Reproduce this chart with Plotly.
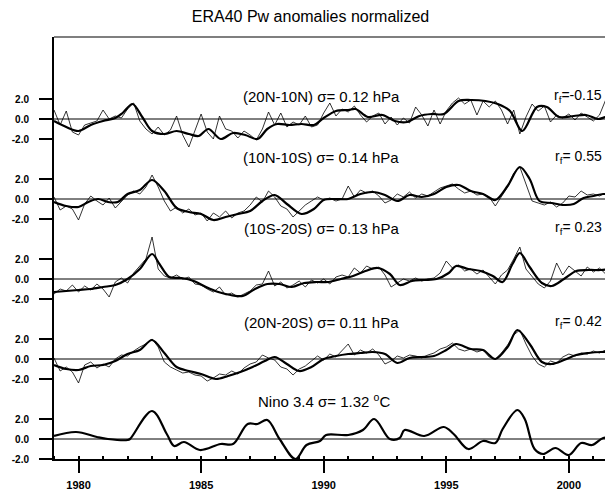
import plotly.graph_objects as go

# ---------------- data ----------------
OFFSETS = [32, 24, 16, 8, 0]   # vertical stacking of the five panels
PANEL_LABELS = ["(20N-10N) σ= 0.12 hPa", "(10N-10S) σ= 0.14 hPa",
                "(10S-20S) σ= 0.13 hPa", "(20N-20S) σ= 0.11 hPa",
                "Nino 3.4 σ= 1.32 <sup>o</sup>C"]
RF_LABELS = ["r<sub>f</sub>=-0.15", "r<sub>f</sub>= 0.55", "r<sub>f</sub>= 0.23",
             "r<sub>f</sub>= 0.42", ""]

YEARS = list(range(1979, 2002))
QUARTERS = [0.0, 0.25, 0.5, 0.75]
thin_t = [y + q for y in YEARS for q in QUARTERS]

# ---- Panel 1 (20N-10N) ----
p1_thin = [0.9, -0.6, 0.8, -1.3,   -1.6, -0.6, -0.4, -0.2,   0.9, 0.0, 0.3, 0.1,
           1.0, 1.6, -0.2, -1.0,   -1.5, -0.8, -1.6, -1.1,   0.3, -1.6, -2.8, -1.2,
           0.5, -1.3, -2.0, 0.3,   -1.0, -1.2, -1.9, -1.2,   -1.6, -2.1, -1.0, 0.7,
           -0.6, 0.6, -0.8, -0.3,  -0.6, 0.3, -0.8, -0.6,    0.6, 1.6, 0.3, 1.0,
           0.7, 1.3, 0.4, -0.3,    0.3, 0.6, -0.5, 0.2,      -0.6, 0.1, -0.4, 1.2,
           0.4, -0.7, 0.9, -0.5,   0.8, 1.6, 2.1, 1.5,       1.9, 0.4, 1.8, 1.2,
           1.8, 0.9, -0.5, 0.9,    -1.5, 0.2, 1.5, 0.8,      1.3, -0.3, 0.4, 0.1,
           0.5, -0.1, 0.6, 0.2,    -0.2, 0.4, 1.9, 0.2]
p1_st = [1979.0, 1979.5, 1980.0, 1980.5, 1981.0, 1981.5, 1981.8, 1982.2, 1982.6, 1983.0,
         1983.5, 1984.0, 1984.5, 1984.9, 1985.3, 1985.8, 1986.3, 1986.8, 1987.3, 1987.7,
         1988.1, 1988.6, 1989.1, 1989.6, 1990.0, 1990.5, 1991.0, 1991.3, 1991.8, 1992.4,
         1992.9, 1993.4, 1993.9, 1994.4, 1994.9, 1995.5, 1996.0, 1996.6, 1997.1, 1997.6,
         1998.1, 1998.7, 1999.1, 1999.6, 2000.2, 2000.7, 2001.2, 2001.5, 2001.8]
p1_s = [-0.2, -0.8, -1.2, -0.6, -0.2, 0.1, 0.6, 1.5, 0.2, -1.2,
        -1.5, -1.2, -1.5, -1.7, -1.0, -2.0, -1.4, -1.6, -2.0, -1.0,
        -0.5, -0.6, -0.5, -0.6, 0.1, 0.8, 0.9, 1.0, 0.2, 0.4,
        -0.2, -0.3, 0.3, 0.5, 0.5, 1.8, 1.9, 1.8, 1.5, 0.8,
        -1.2, 1.2, 1.2, 0.2, 0.3, 0.4, 0.0, 0.2, 0.3]

# ---- Panel 2 (10N-10S) ----
p2_thin = [0.2, -1.1, -0.7, -1.0,  -2.1, -0.5, 0.3, -0.2,   -0.6, 0.1, -0.9, -0.3,
           0.4, 0.8, 0.5, 1.2,     2.4, 1.2, -0.2, -1.2,    -0.8, -1.4, -1.0, -1.6,
           -1.4, -2.2, -1.4, -1.8, -1.2, -1.9, -1.4, -1.2,  -0.6, 0.2, -0.3, 0.8,
           0.2, -0.7, -1.0, -1.8,  -1.2, -0.6, -0.2, 0.2,   -0.1, 0.1, -0.2, 0.0,
           1.3, 0.2, 0.9, 0.6,     0.8, 0.3, -0.4, -0.1,    0.5, 0.2, 0.7, 0.1,
           0.5, 0.3, 0.7, 1.1,     1.3, 1.5, 1.0, 0.6,      0.8, 0.4, 0.5, 0.2,
           -0.7, 0.3, 1.2, 2.6,    3.2, 1.5, -0.2, -0.4,    -0.6, -0.3, -0.8, -0.4,
           0.3, 0.2, 0.8, 0.4,     0.5, 0.3, 0.6, 0.4]
p2_st = [1979.0, 1979.5, 1980.0, 1980.4, 1980.8, 1981.2, 1981.6, 1982.0, 1982.5, 1983.0,
         1983.5, 1984.0, 1984.5, 1985.0, 1985.5, 1986.0, 1986.5, 1987.0, 1987.5, 1988.0,
         1988.5, 1989.1, 1989.6, 1990.0, 1990.5, 1991.0, 1991.5, 1992.0, 1992.5, 1993.0,
         1993.5, 1994.0, 1994.5, 1995.0, 1995.5, 1996.0, 1996.5, 1997.0, 1997.5, 1998.0,
         1998.4, 1998.8, 1999.3, 1999.8, 2000.2, 2000.6, 2001.0, 2001.4, 2001.8]
p2_s = [-0.3, -0.7, -0.8, -0.3, 0.0, -0.3, -0.3, 0.5, 0.9, 1.9,
        0.8, -0.9, -1.3, -1.5, -2.1, -1.8, -1.5, -1.2, -0.2, 0.4,
        -0.5, -1.5, -1.0, -0.1, 0.0, 0.0, 0.5, 0.7, 0.4, -0.2,
        0.4, 0.2, 0.5, 1.2, 1.4, 0.8, 0.5, -0.1, 1.3, 3.2,
        2.0, -0.2, -0.4, -0.6, -0.5, 0.1, 0.3, 0.5, 0.4]

# ---- Panel 3 (10S-20S) ----
p3_thin = [-1.5, -1.0, -1.2, -0.6, -1.3, -0.7, -1.1, -0.5,  -1.0, -1.8, -0.3, 0.1,
           -0.4, 0.6, 1.3, 2.0,    4.2, 1.0, 0.3, 0.1,      0.4, 0.0, 0.2, -0.5,
           -0.6, -1.0, -1.3, -0.8, -1.6, -1.4, -1.8, -1.5,  -1.2, -0.6, -0.5, 0.8,
           -0.7, -0.3, -0.9, -0.6, -0.2, -0.8, -0.1, -0.4,  0.0, -0.5, 0.2, 0.4,
           0.2, 1.1, 0.6, 1.3,     1.0, 1.2, 0.4, -0.8,     -0.4, 0.0, -0.2, 0.1,
           -0.2, 0.0, 0.1, 0.6,    1.8, 1.1, 1.4, 0.8,      1.0, 0.5, 0.9, 0.2,
           -0.5, 0.4, 0.9, 2.0,    3.2, 1.0, 0.3, -0.5,     -0.9, -0.2, 1.6, 0.4,
           1.3, 0.8, 0.3, 1.2,     0.7, 1.1, 0.5, 0.9]
p3_st = [1979.0, 1979.5, 1980.0, 1980.5, 1981.0, 1981.5, 1982.0, 1982.5, 1983.0, 1983.3,
         1983.7, 1984.2, 1984.7, 1985.2, 1985.7, 1986.2, 1986.7, 1987.2, 1987.7, 1988.2,
         1988.7, 1989.2, 1989.7, 1990.2, 1990.7, 1991.2, 1991.7, 1992.2, 1992.7, 1993.1,
         1993.6, 1994.1, 1994.6, 1995.1, 1995.4, 1995.9, 1996.4, 1996.9, 1997.3, 1997.7,
         1998.0, 1998.4, 1998.9, 1999.3, 1999.8, 2000.3, 2000.8, 2001.3, 2001.8]
p3_s = [-1.3, -1.2, -1.1, -1.0, -0.8, -0.6, 0.0, 1.0, 2.5, 1.5,
        0.2, 0.1, -0.2, -0.8, -1.3, -1.6, -1.7, -1.0, -0.5, -0.5,
        -0.8, -0.4, -0.3, -0.3, 0.0, 0.3, 0.8, 1.1, 0.5, -0.6,
        -0.2, -0.1, 0.0, 0.6, 1.3, 1.0, 0.8, 0.3, -0.3, 1.5,
        2.6, 1.2, -0.4, -0.7, 0.0, 0.8, 0.9, 0.9, 1.0]

# ---- Panel 4 (20N-20S) ----
p4_thin = [0.1, -1.2, -0.8, -1.3,  -2.4, -0.6, -0.3, -0.9,  -0.5, -0.8, 0.0, 0.4,
           0.3, 0.8, 1.2, 1.5,     2.0, 1.2, -0.3, -0.8,    -1.1, -1.4, -1.3, -1.6,
           -1.7, -2.2, -1.9, -1.5, -1.6, -1.2, -1.5, -0.9,  -0.5, -0.3, 0.4, 0.1,
           -0.1, -0.8, -1.0, -1.6, -1.0, -0.7, -0.2, 0.3,   -0.1, 0.5, 0.2, 0.8,
           1.5, 0.4, 0.9, 0.6,     1.0, 0.4, -0.5, -0.2,    0.3, 0.1, 0.4, 0.3,
           0.1, 0.4, 0.6, 1.0,     1.2, 1.6, 1.0, 0.8,      1.0, 0.7, 0.9, 0.2,
           0.0, 0.6, 1.4, 2.4,     2.9, 1.5, 0.3, -0.5,     -0.8, -0.2, -0.4, 0.2,
           0.5, 0.3, 0.6, 0.5,     0.8, 0.6, 0.9, 0.7]
p4_st = [1979.0, 1979.5, 1980.0, 1980.5, 1981.0, 1981.5, 1982.0, 1982.5, 1983.0, 1983.5,
         1984.0, 1984.5, 1985.0, 1985.6, 1986.1, 1986.6, 1987.1, 1987.6, 1988.0, 1988.5,
         1989.0, 1989.5, 1990.0, 1990.5, 1991.0, 1991.5, 1992.0, 1992.5, 1993.0, 1993.5,
         1994.0, 1994.5, 1995.0, 1995.4, 1996.0, 1996.5, 1997.0, 1997.5, 1997.9, 1998.4,
         1998.9, 1999.3, 1999.8, 2000.3, 2000.8, 2001.3, 2001.8]
p4_s = [-0.6, -1.0, -1.1, -0.7, -0.6, -0.2, 0.5, 0.9, 1.9, 0.6,
        -0.8, -1.2, -1.5, -2.0, -1.7, -1.3, -0.8, -0.2, 0.2, -0.5,
        -1.2, -0.8, 0.0, 0.3, 0.5, 0.6, 0.7, 0.5, -0.4, 0.1,
        0.2, 0.3, 0.9, 1.5, 1.0, 0.9, 0.0, 1.2, 2.9, 1.5,
        -0.3, -0.5, -0.1, 0.4, 0.6, 0.7, 0.7]

# ---- Nino 3.4 ----
nino_t = [1979.0, 1979.9, 1980.75, 1981.2, 1982.0, 1982.1, 1983.0, 1983.6, 1983.9, 1984.3,
          1984.95, 1985.8, 1986.3, 1986.9, 1987.3, 1987.7, 1988.2, 1988.85, 1989.3, 1989.85,
          1990.1, 1991.0, 1991.6, 1992.06, 1992.7, 1993.1, 1993.3, 1994.1, 1994.9, 1995.3,
          1995.9, 1996.5, 1997.0, 1997.3, 1997.9, 1998.2, 1998.6, 1998.95, 1999.45, 2000.0,
          2000.5, 2000.95, 2001.4, 2001.8]
nino_v = [0.3, 0.7, 0.2, 0.0, -0.1, 0.0, 2.8, 0.5, -0.7, -0.3,
          -1.1, -0.5, -0.5, 1.5, 1.5, 1.9, 0.0, -2.0, -0.6, -0.2,
          0.4, 0.4, 0.9, 2.0, 0.0, 0.1, 0.9, 0.3, 1.2, 0.5,
          -1.0, -0.2, -0.4, 1.0, 2.9, 2.0, -1.0, -1.5, -0.9, -1.6,
          -0.4, -0.6, 0.1, 0.1]

X_TICKS = [1980, 1985, 1990, 1995, 2000]
Y_TICK_VALUES = [-2.0, 0.0, 2.0]
Y_TICK_TEXT = ["-2.0", "0.0", "2.0"]

# ---------------- figure ----------------
# The page body has an 8px margin, so the figure is made 8px smaller
# and placed so that the plot lands where it sits in the reference window.
FONT = "Liberation Sans, Arial, sans-serif"
W, H = 605, 485
fig = go.Figure()

for off in OFFSETS:
    fig.add_shape(type="line", xref="paper", x0=0, x1=1, yref="y", y0=off, y1=off,
                  line=dict(color="black", width=1), layer="below")

series = [(p1_thin, p1_st, p1_s), (p2_thin, p2_st, p2_s),
          (p3_thin, p3_st, p3_s), (p4_thin, p4_st, p4_s)]
for k, (thin, st, s) in enumerate(series):
    off = OFFSETS[k]
    fig.add_trace(go.Scatter(x=thin_t, y=[off + a for a in thin], mode="lines",
                             line=dict(color="black", width=0.8),
                             showlegend=False, hoverinfo="skip"))
    fig.add_trace(go.Scatter(x=st, y=[off + a for a in s], mode="lines",
                             line=dict(color="black", width=2.2, shape="spline", smoothing=0.9),
                             showlegend=False, hoverinfo="skip"))
fig.add_trace(go.Scatter(x=nino_t, y=[OFFSETS[4] + a for a in nino_v], mode="lines",
                         line=dict(color="black", width=2.2, shape="spline", smoothing=1),
                         showlegend=False, hoverinfo="skip"))

fig.add_shape(type="line", xref="paper", x0=0, x1=1, yref="paper", y0=1, y1=1,
              line=dict(color="black", width=1.2))

label_dy = [2.3, 4.2, 5.1, 3.7, 3.9]
label_x = [1989.9, 1989.9, 1989.9, 1989.9, 1990.0]
for k, off in enumerate(OFFSETS):
    fig.add_annotation(x=label_x[k], y=off + label_dy[k], text=PANEL_LABELS[k],
                       showarrow=False, xanchor="center", yanchor="middle",
                       font=dict(family=FONT, size=15, color="black"))
    if RF_LABELS[k]:
        fig.add_annotation(x=2001.45, y=off + label_dy[k], text=RF_LABELS[k],
                           showarrow=False, xanchor="right", yanchor="middle",
                           font=dict(family=FONT, size=14, color="black"))

tickvals, ticktext = [], []
for off in OFFSETS:
    for v, s in zip(Y_TICK_VALUES, Y_TICK_TEXT):
        tickvals.append(off + v)
        ticktext.append("<b>%s</b>" % s)

fig.update_layout(
    width=W, height=H,
    margin=dict(l=46, r=0, t=29, b=34, pad=0),
    paper_bgcolor="white", plot_bgcolor="white",
    title=dict(text="ERA40 Pw anomalies normalized", x=0.5, xanchor="center",
               y=1 - 8 / H, yanchor="middle",
               font=dict(family=FONT, size=16, color="black")),
    xaxis=dict(range=[1979, 2001.8], showgrid=False, zeroline=False, automargin=False,
               showline=True, linecolor="black", linewidth=2,
               tickmode="array", tickvals=X_TICKS,
               ticktext=["<b>%d</b>" % y for y in X_TICKS],
               ticks="outside", ticklen=12, tickwidth=2, tickcolor="black",
               ticklabelstandoff=3,
               tickfont=dict(family=FONT, size=11, color="black"),
               minor=dict(dtick=1, ticks="inside", ticklen=3, tickcolor="black", showgrid=False)),
    yaxis=dict(range=[-2, 40.2], showgrid=False, zeroline=False, automargin=False,
               showline=True, linecolor="black", linewidth=2,
               tickmode="array", tickvals=tickvals, ticktext=ticktext,
               ticks="outside", ticklen=13, tickwidth=2, tickcolor="black",
               ticklabelstandoff=8,
               tickfont=dict(family=FONT, size=10, color="black")),
)

fig.write_html("out.html")
